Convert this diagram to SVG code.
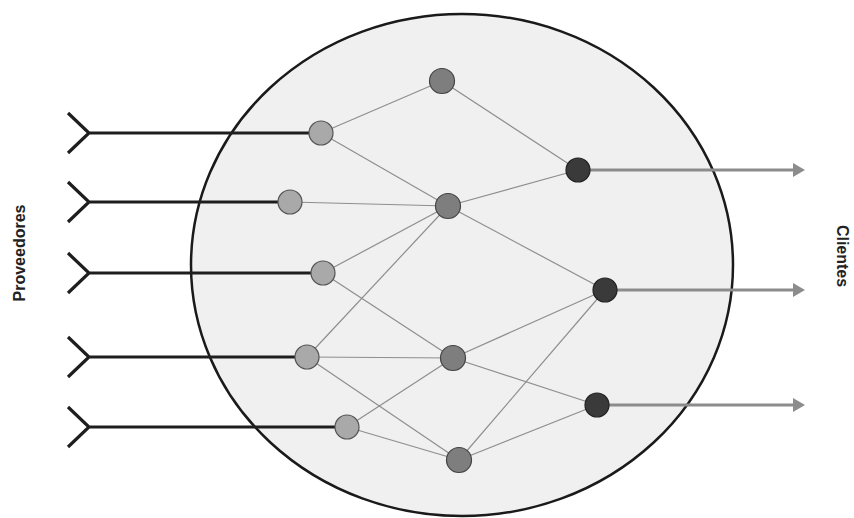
<svg xmlns="http://www.w3.org/2000/svg" width="854" height="518" viewBox="0 0 854 518">
  <style>
    .feed { fill: none; stroke: #1e1e1e; stroke-width: 3.2; stroke-linecap: butt; stroke-linejoin: miter; }
    .edge { stroke: #8e8e8e; stroke-width: 1.2; fill: none; }
    .out { stroke: #8c8c8c; stroke-width: 3; fill: none; }
    .head { fill: #8c8c8c; }
    .sup { fill: #a9a9a9; stroke: #555; stroke-width: 1.2; }
    .mid { fill: #7e7e7e; stroke: #444; stroke-width: 1.2; }
    .cli { fill: #3a3a3a; stroke: #222; stroke-width: 1.2; }
    .lbl { font-family: "Liberation Sans", Arial, sans-serif; font-weight: bold; font-size: 16px; fill: #222; }
  </style>
  <rect width="854" height="518" fill="#ffffff"/>
  <ellipse id="boundary" cx="462" cy="265" rx="271" ry="251" fill="#f0f0f0" stroke="#1a1a1a" stroke-width="2.5"/>

  <g id="connectors">
    <path class="feed" d="M68,113 L89,133 L68,153 M89,133 L310,133"/>
    <path class="feed" d="M68,182 L89,202 L68,222 M89,202 L278,202"/>
    <path class="feed" d="M68,253 L89,273 L68,293 M89,273 L311,273"/>
    <path class="feed" d="M68,337 L89,357 L68,377 M89,357 L295,357"/>
    <path class="feed" d="M68,407 L89,427 L68,447 M89,427 L335,427"/>

    <line class="edge" x1="321" y1="133" x2="442" y2="81"/>
    <line class="edge" x1="321" y1="133" x2="448" y2="206"/>
    <line class="edge" x1="290" y1="202" x2="448" y2="206"/>
    <line class="edge" x1="323" y1="273" x2="448" y2="206"/>
    <line class="edge" x1="323" y1="273" x2="453" y2="358"/>
    <line class="edge" x1="307" y1="357" x2="448" y2="206"/>
    <line class="edge" x1="307" y1="357" x2="453" y2="358"/>
    <line class="edge" x1="307" y1="357" x2="459" y2="460"/>
    <line class="edge" x1="347" y1="427" x2="453" y2="358"/>
    <line class="edge" x1="347" y1="427" x2="459" y2="460"/>
    <line class="edge" x1="442" y1="81" x2="578" y2="170"/>
    <line class="edge" x1="448" y1="206" x2="578" y2="170"/>
    <line class="edge" x1="448" y1="206" x2="605" y2="290"/>
    <line class="edge" x1="453" y1="358" x2="605" y2="290"/>
    <line class="edge" x1="453" y1="358" x2="597" y2="405"/>
    <line class="edge" x1="459" y1="460" x2="605" y2="290"/>
    <line class="edge" x1="459" y1="460" x2="597" y2="405"/>

    <line class="out" x1="588" y1="170" x2="794" y2="170"/>
    <polygon class="head" points="793,163 805,170 793,177"/>
    <line class="out" x1="615" y1="290" x2="794" y2="290"/>
    <polygon class="head" points="793,283 805,290 793,297"/>
    <line class="out" x1="607" y1="405" x2="794" y2="405"/>
    <polygon class="head" points="793,398 805,405 793,412"/>
  </g>

  <g id="s1"><circle class="sup" cx="321" cy="133" r="12"/></g>
  <g id="s2"><circle class="sup" cx="290" cy="202" r="12"/></g>
  <g id="s3"><circle class="sup" cx="323" cy="273" r="12"/></g>
  <g id="s4"><circle class="sup" cx="307" cy="357" r="12"/></g>
  <g id="s5"><circle class="sup" cx="347" cy="427" r="12"/></g>

  <g id="m1"><circle class="mid" cx="442" cy="81" r="12.5"/></g>
  <g id="m2"><circle class="mid" cx="448" cy="206" r="12.5"/></g>
  <g id="m3"><circle class="mid" cx="453" cy="358" r="12.5"/></g>
  <g id="m4"><circle class="mid" cx="459" cy="460" r="12.5"/></g>

  <g id="c1"><circle class="cli" cx="578" cy="170" r="12"/></g>
  <g id="c2"><circle class="cli" cx="605" cy="290" r="12"/></g>
  <g id="c3"><circle class="cli" cx="597" cy="405" r="12"/></g>

  <g id="label-proveedores"><text class="lbl" transform="translate(25,253) rotate(-90)" text-anchor="middle">Proveedores</text></g>
  <g id="label-clientes"><text class="lbl" transform="translate(837,256) rotate(90)" text-anchor="middle">Clientes</text></g>
</svg>
